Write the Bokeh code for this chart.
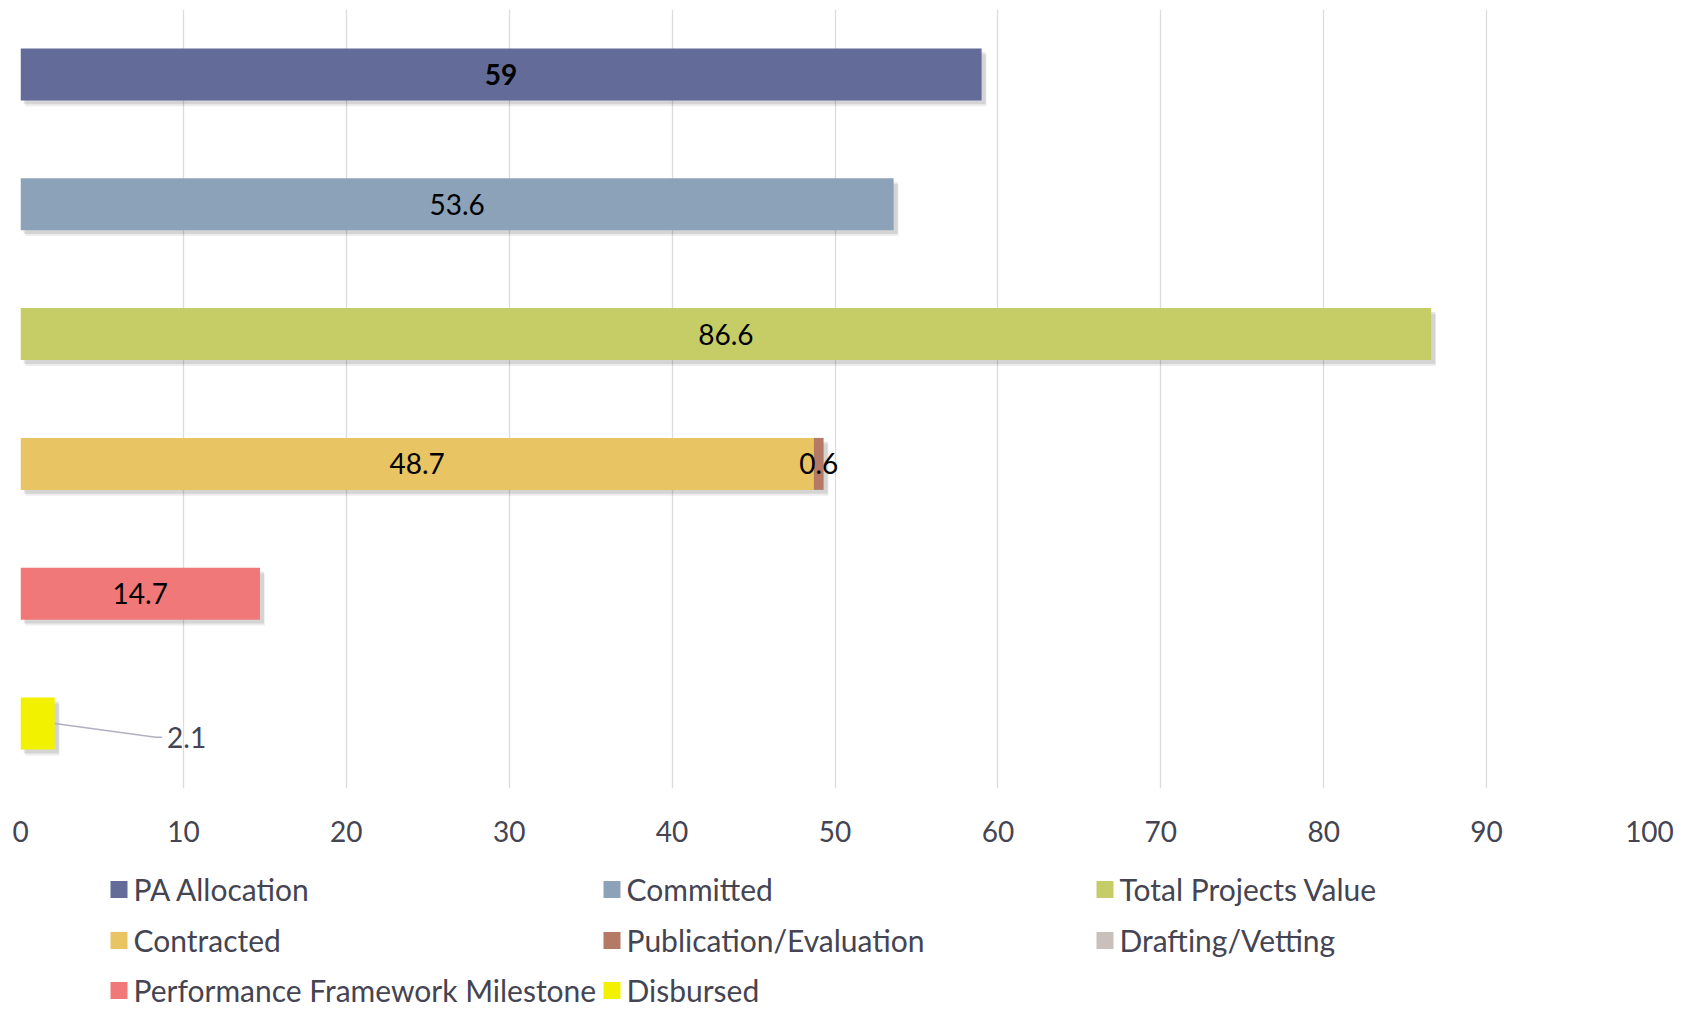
from bokeh.plotting import figure
from bokeh.models import Range1d, ColumnDataSource, FixedTicker
from bokeh.layouts import column
from bokeh.core.properties import value
from bokeh.embed import file_html
from bokeh.resources import INLINE

rows = ["PA Allocation", "Committed", "Total Projects Value", "Contracted",
        "Performance Framework Milestone", "Disbursed"]
series = ["PA Allocation", "Committed", "Total Projects Value", "Contracted",
          "Publication/Evaluation", "Drafting/Vetting",
          "Performance Framework Milestone", "Disbursed"]
pa_allocation = [59, 0, 0, 0, 0, 0]
committed = [0, 53.6, 0, 0, 0, 0]
total_projects_value = [0, 0, 86.6, 0, 0, 0]
contracted = [0, 0, 0, 48.7, 0, 0]
publication_evaluation = [0, 0, 0, 0.6, 0, 0]
drafting_vetting = [0, 0, 0, 0, 0, 0]
pf_milestone = [0, 0, 0, 0, 14.7, 0]
disbursed = [0, 0, 0, 0, 0, 2.1]
x_ticks = [0, 10, 20, 30, 40, 50, 60, 70, 80, 90, 100]

values = [pa_allocation, committed, total_projects_value, contracted,
          publication_evaluation, drafting_vetting, pf_milestone, disbursed]
colors = ["#636c99", "#8ba2b8", "#c6cd66", "#e8c562", "#b57a66", "#c9bfbb",
          "#f07878", "#f2f200"]

FONT = "Lato"
TXT = "#444452"
W = 1680
BL, BR = 20, 31

p = figure(width=W, height=858, output_backend="svg", toolbar_location=None,
           x_range=Range1d(0, 100), y_range=Range1d(-0.5, 5.5),
           min_border_left=BL, min_border_right=BR, min_border_top=9,
           min_border_bottom=70)
p.outline_line_color = None
p.yaxis.visible = False
p.ygrid.visible = False
p.xgrid.grid_line_color = "#dcdcdc"
p.xgrid.grid_line_width = 1.3
p.xaxis.ticker = FixedTicker(ticks=x_ticks)
p.xaxis.axis_line_color = None
p.xaxis.major_tick_line_color = None
p.xaxis.minor_tick_line_color = None
p.xaxis.major_label_standoff = 26
p.xaxis.major_label_text_font = FONT
p.xaxis.major_label_text_font_size = "28px"
p.xaxis.major_label_text_color = TXT

ypos = [5 - i for i in range(len(rows))]
H = 0.4

totals = [sum(v[i] for v in values) for i in range(len(rows))]
shadow = ColumnDataSource(dict(y=[y - 0.03 for y in ypos], right=[t + 0.25 for t in totals]))
p.hbar(y="y", left=0.2, right="right", height=H, source=shadow,
       fill_color="black", fill_alpha=0.10, line_color=None)
shadow2 = ColumnDataSource(dict(y=[y - 0.045 for y in ypos], right=[t + 0.3 for t in totals]))
p.hbar(y="y", left=0.3, right="right", height=H, source=shadow2,
       fill_color="black", fill_alpha=0.07, line_color=None)

lefts = [0.0] * len(rows)
label_x, label_y, label_t, label_bold = [], [], [], []
for s_i, (name, vals, col) in enumerate(zip(series, values, colors)):
    src = ColumnDataSource(dict(y=ypos, left=list(lefts),
                                right=[l + v for l, v in zip(lefts, vals)]))
    p.hbar(y="y", left="left", right="right", height=H, source=src,
           fill_color=col, line_color=None)
    for i, v in enumerate(vals):
        if v > 0:
            label_x.append(lefts[i] + v / 2)
            label_y.append(ypos[i])
            label_t.append(f"{v:g}")
            label_bold.append("bold" if s_i == 0 else "normal")
    lefts = [l + v for l, v in zip(lefts, vals)]

# inside labels (all except the small Disbursed one with a leader line)
inside = [k for k in range(len(label_t)) if label_t[k] != f"{disbursed[5]:g}"]
lsrc = ColumnDataSource(dict(x=[label_x[k] for k in inside], y=[label_y[k] for k in inside],
                             t=[label_t[k] for k in inside], fs=[label_bold[k] for k in inside]))
p.text(x="x", y="y", text="t", source=lsrc, text_align="center", text_baseline="middle",
       text_font=value(FONT), text_font_size="28px", text_color="black",
       text_font_style="fs")

# Disbursed label with leader line
d_val = disbursed[5]
d_y = ypos[5]
p.line(x=[d_val, 8.3, 8.7], y=[d_y, d_y - 0.105, d_y - 0.105],
       line_color="#b0b0c0", line_width=1.5)
p.text(x=[9.0], y=[d_y - 0.11], text=[f"{d_val:g}"], text_align="left",
       text_baseline="middle", text_font=value(FONT), text_font_size="28px",
       text_color=TXT)

# legend panel (page-pixel coordinates; frame aligned with the chart above)
LH = 1009 - 858
lg = figure(width=W, height=LH, output_backend="svg", toolbar_location=None,
            x_range=Range1d(BL, W - BR), y_range=Range1d(LH, 0),
            min_border_left=BL, min_border_right=BR, min_border_top=0,
            min_border_bottom=0)
lg.outline_line_color = None
lg.axis.visible = False
lg.grid.visible = False
col_x = [110, 603, 1096]
row_y = [30, 81, 131]
sq_x = [col_x[i % 3] + 8.5 for i in range(len(series))]
sq_y = [row_y[i // 3] + 1 for i in range(len(series))]
lg.rect(x=sq_x, y=sq_y, width=17, height=17, fill_color=colors, line_color=None)
lg.text(x=[col_x[i % 3] + 23 for i in range(len(series))],
        y=[row_y[i // 3] for i in range(len(series))], text=series,
        text_align="left", text_baseline="middle", text_font=value(FONT),
        text_font_size="30px", text_color=TXT)

open("out.html", "w").write(file_html(column(p, lg, spacing=0), INLINE))
